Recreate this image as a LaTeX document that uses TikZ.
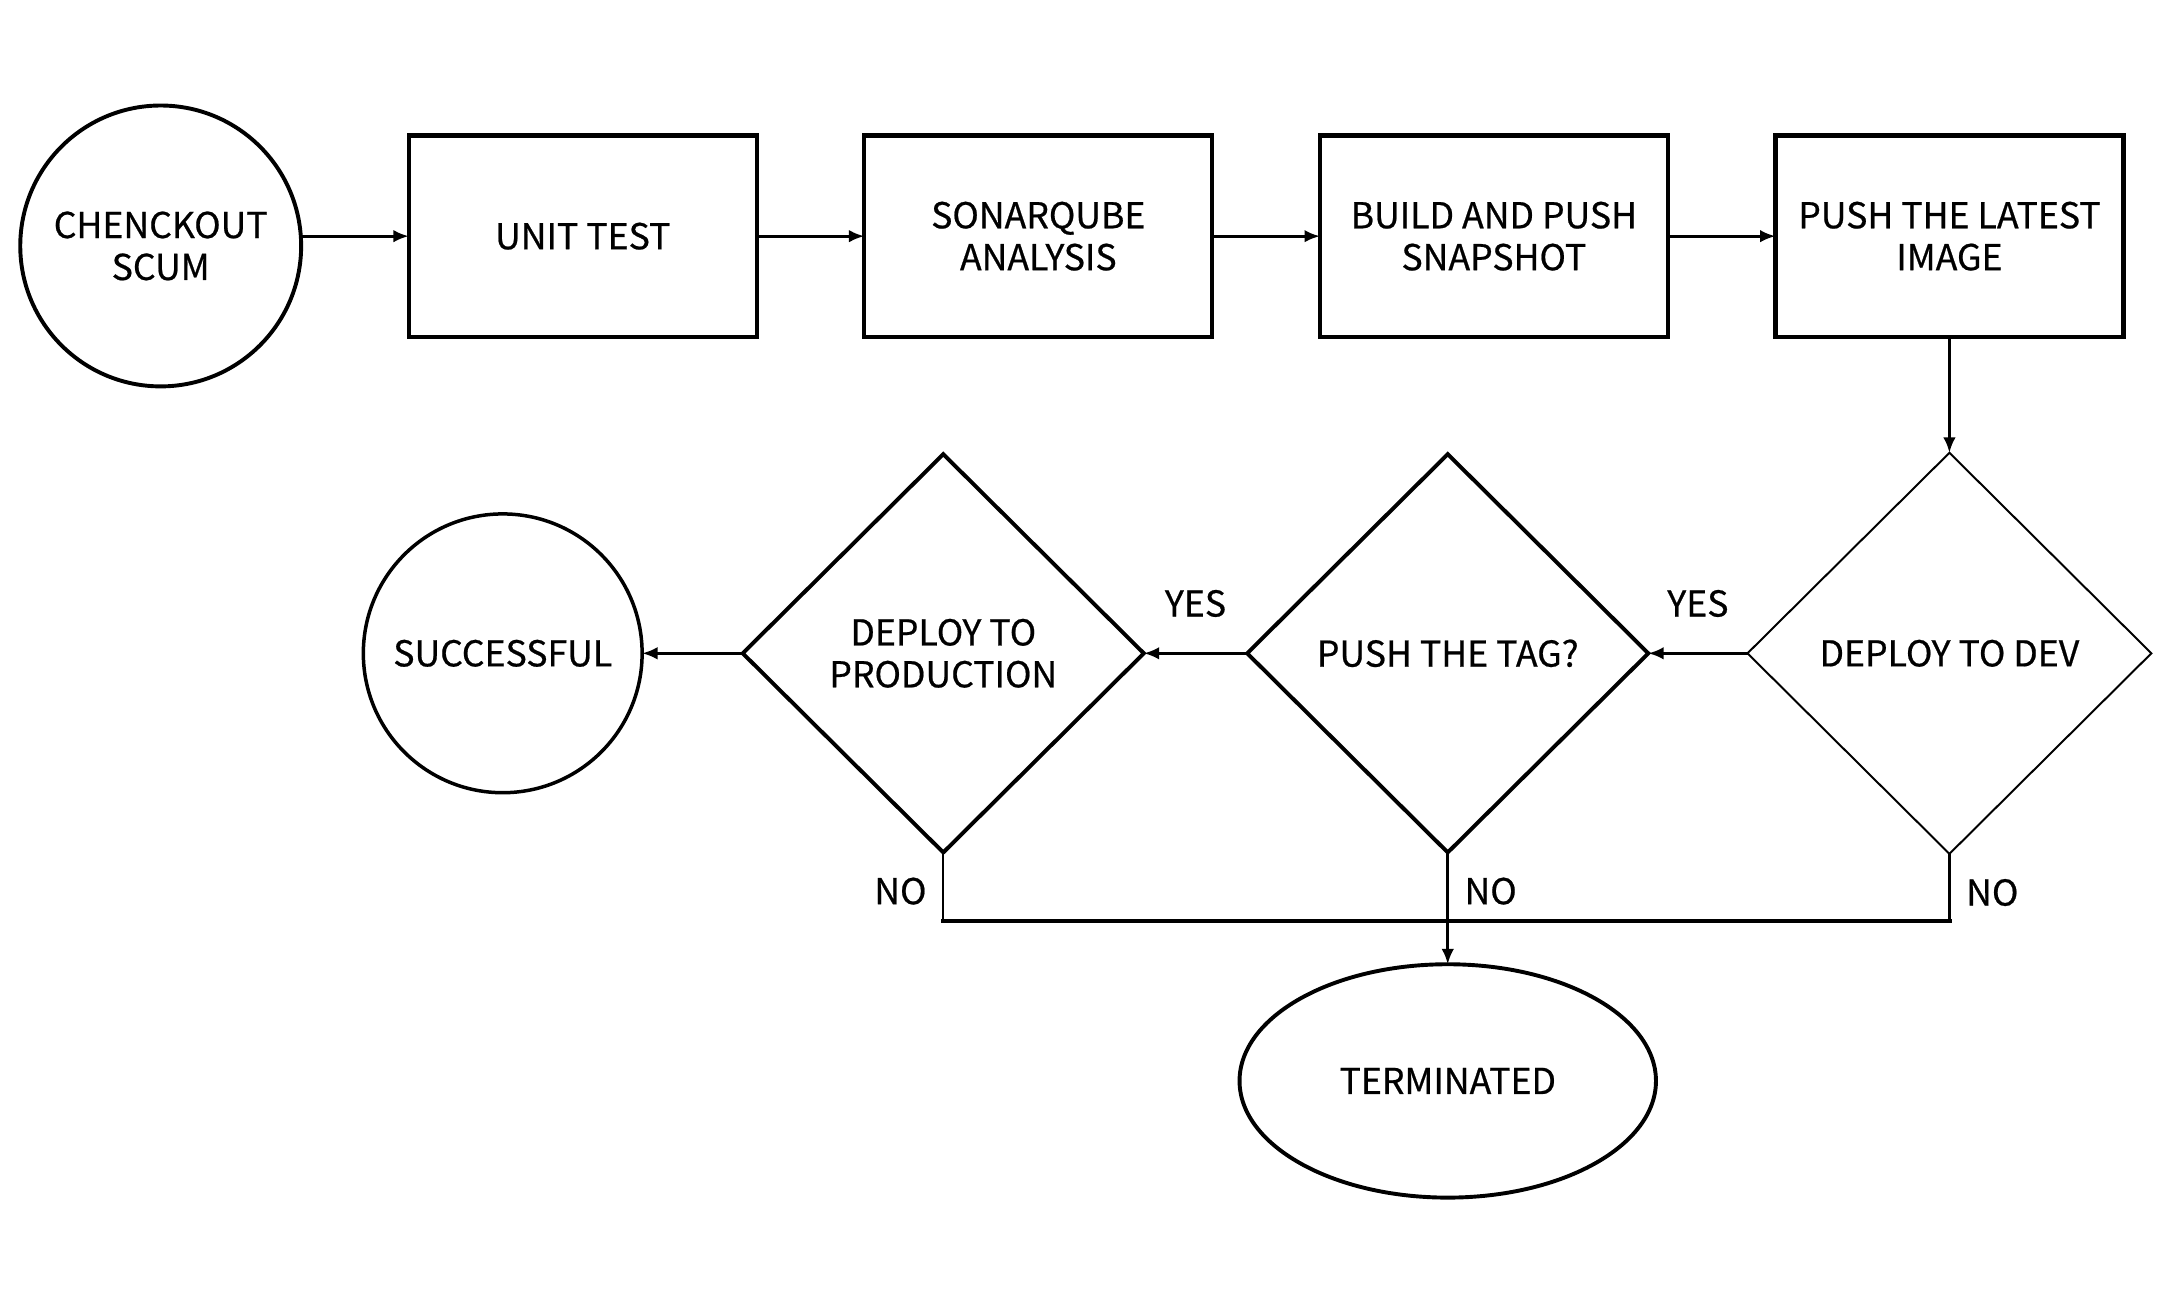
\documentclass[tikz,border=0pt]{standalone}
\usepackage{fontspec}
\usepackage{tikz}
\usetikzlibrary{positioning,arrows.meta}
\usetikzlibrary{shapes.geometric}
\newfontfamily\lblfont[FakeBold=0.6]{Noto Sans CJK SC}

\tikzset{
    txt/.style={font=\lblfont\fontsize{25.5}{30}\selectfont, align=center, outer sep=0pt},
    term/.style={txt, circle, draw, line width=2.8pt, minimum size=201pt, inner sep=0pt},
    stage/.style={txt, rectangle, draw, line width=3pt, minimum width=249pt, minimum height=144pt},
    decision/.style={txt, diamond, draw, line width=2.8pt, minimum width=287pt, minimum height=285pt, inner sep=0pt},
    endnode/.style={txt, ellipse, draw, line width=2.8pt, minimum width=298pt, minimum height=167pt},
    lbl/.style={txt, inner sep=0pt},
    arr/.style={line width=2pt, -{Latex[length=11pt,width=9pt]}},
    noline/.style={line width=1.6pt},
    nobar/.style={line width=3pt, line cap=rect}
}

\begin{document}
\begin{tikzpicture}[x=1pt,y=-1pt]
    \useasboundingbox (0,0) rectangle (1560,932);

    % Define nodes
    \node[term]		(chk)		at (115,176)	{CHENCKOUT\\SCUM};
    \node[stage, right=77pt of chk, yshift=7pt]		(unit)		{UNIT TEST};
    \node[stage, right=77pt of unit]		(sonar)		{SONARQUBE\\ANALYSIS};
    \node[stage, right=77pt of sonar]		(build)		{BUILD AND PUSH\\SNAPSHOT};
    \node[stage, right=77pt of build]		(push)		{PUSH THE LATEST\\IMAGE};
    \node[decision, line width=1.4pt, minimum width=289pt, minimum height=287pt, below=83pt of push]		(dev)		{DEPLOY TO DEV};
    \node[decision, left=71pt of dev]		(tag)		{PUSH THE TAG?};
    \node[decision, left=74pt of tag]		(prod)		{DEPLOY TO\\PRODUCTION};
    \node[term, minimum size=199.5pt, line width=2.5pt, left=72pt of prod]		(succ)		{SUCCESSFUL};
    \node[endnode, below=80pt of tag]		(stop)		{TERMINATED};
    \coordinate (low) at (0,659);

    % Connect nodes
    \draw[arr] (chk.east |- unit) -- (unit);
    \draw[arr] (unit) -- (sonar);
    \draw[arr] (sonar) -- (build);
    \draw[arr] (build) -- (push);
    \draw[arr] (push) -- (dev);
    \draw[arr] (dev) -- node[lbl, above=26pt] {YES} (tag);
    \draw[arr] (tag) -- node[lbl, above=26pt] {YES} (prod);
    \draw[arr] (prod) -- (succ);
    \draw[arr] (tag) -- (stop);

    % the NO branch
    \draw[noline] (prod.south) -- (prod.south |- low);
    \draw[noline] (dev.south) -- (dev.south |- low);
    \draw[nobar] (prod.south |- low) -- (dev.south |- low);
    \node[lbl, below left=18pt and 12pt of prod.south]		{NO};
    \node[lbl, below right=18pt and 12pt of tag.south]		{NO};
    \node[lbl, below right=18pt and 12pt of dev.south]		{NO};
\end{tikzpicture}
\end{document}
